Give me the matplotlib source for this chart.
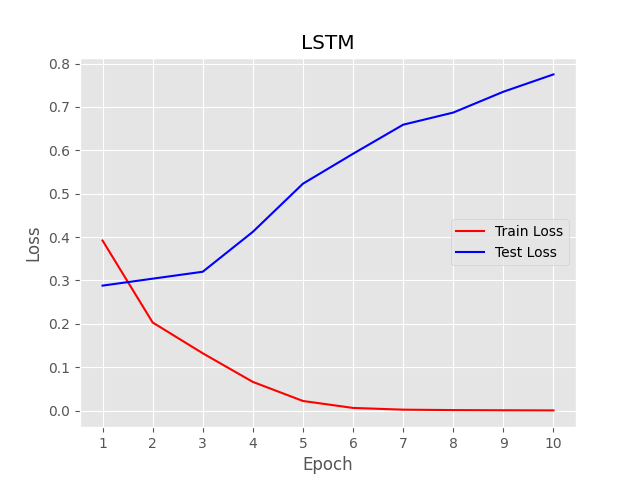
import matplotlib
matplotlib.use("Agg")
import matplotlib.pyplot as plt

epochs = [1, 2, 3, 4, 5, 6, 7, 8, 9, 10]
train_loss = [0.392, 0.203, 0.132, 0.066, 0.022, 0.006, 0.002, 0.001, 0.0006, 0.0003]
test_loss = [0.288, 0.304, 0.320, 0.412, 0.523, 0.592, 0.659, 0.687, 0.735, 0.775]

plt.style.use("ggplot")
fig = plt.figure(figsize=(6.4, 4.8), dpi=100)
plt.plot(epochs, train_loss, color="red", label="Train Loss")
plt.plot(epochs, test_loss, color="blue", label="Test Loss")
plt.title("LSTM")
plt.xlabel("Epoch")
plt.ylabel("Loss")
plt.xticks(epochs)
plt.legend(loc="center right")
plt.savefig("out.png")
